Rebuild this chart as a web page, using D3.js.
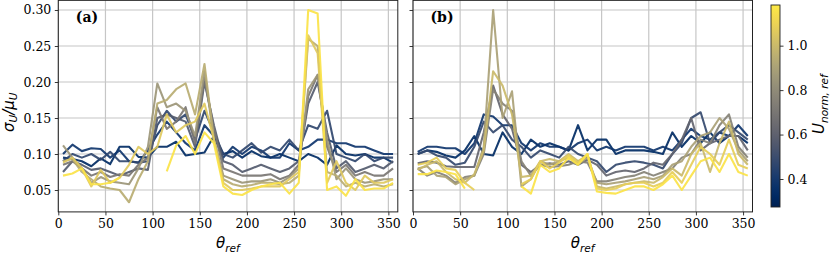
<!DOCTYPE html>
<html>
<head>
<meta charset="utf-8">
<script src="https://cdn.jsdelivr.net/npm/d3@7"></script>
<style>
    body { margin: 0; background: #fff; }
    text { fill: #000; }
</style>
</head>
<body>
<svg id="chart" width="830" height="254"></svg>
<script>
// theta_ref bin centres
var thetaRef = [5, 15, 25, 35, 45, 55, 65, 75, 85, 95, 105, 115, 125, 135, 145, 155, 165, 175,
    185, 195, 205, 215, 225, 235, 245, 255, 265, 275, 285, 295, 305, 315, 325, 335, 345, 355];

var xTicks = [0, 50, 100, 150, 200, 250, 300, 350];
var yTicks = [0.05, 0.10, 0.15, 0.20, 0.25, 0.30];
var cbarTicks = [0.4, 0.6, 0.8, 1.0];

// U_norm,ref of each line (colour)
var uNormA = [0.33, 0.38, 0.47, 0.57, 0.70, 0.85, 0.95, 1.06, 1.16];
var uNormB = [0.33, 0.38, 0.48, 0.62, 0.76, 0.90, 1.00, 1.08, 1.16];

// panel (a): sigma_U / mu_U
var a1 = [0.095, 0.093, 0.090, 0.083, 0.094, 0.086, 0.110, 0.110, 0.096, 0.095, 0.110, 0.110, 0.117, 0.098, 0.100, 0.102, 0.125, 0.100, 0.104, 0.095, 0.104, 0.097, 0.095, 0.100, 0.095, 0.090, 0.100, 0.095, 0.085, 0.112, 0.100, 0.098, 0.100, 0.095, 0.095, 0.088];
var a2 = [0.100, 0.113, 0.104, 0.108, 0.107, 0.095, 0.105, 0.090, 0.088, 0.105, 0.127, 0.145, 0.130, 0.115, 0.105, 0.140, 0.125, 0.095, 0.110, 0.100, 0.110, 0.105, 0.095, 0.095, 0.115, 0.105, 0.110, 0.120, 0.120, 0.115, 0.115, 0.110, 0.110, 0.105, 0.100, 0.100];
var a3 = [0.090, 0.100, 0.095, 0.100, 0.092, 0.103, 0.090, 0.090, 0.088, 0.090, 0.140, 0.160, 0.145, 0.155, 0.120, 0.160, 0.130, 0.100, 0.095, 0.105, 0.115, 0.102, 0.110, 0.105, 0.120, 0.105, 0.140, 0.135, 0.160, 0.100, 0.095, 0.090, 0.100, 0.090, 0.095, 0.095];
var a4 = [0.075, 0.090, 0.085, 0.078, 0.080, 0.075, 0.070, 0.075, 0.080, 0.078, 0.150, 0.155, 0.150, 0.145, 0.110, 0.200, 0.140, 0.090, 0.085, 0.075, 0.080, 0.085, 0.080, 0.075, 0.080, 0.090, 0.170, 0.200, 0.130, 0.080, 0.090, 0.075, 0.080, 0.085, 0.080, 0.090];
var a5 = [0.085, 0.090, 0.080, 0.070, 0.075, 0.068, 0.072, 0.070, 0.085, 0.095, 0.165, 0.135, 0.145, 0.165, 0.115, 0.205, 0.135, 0.080, 0.075, 0.070, 0.070, 0.070, 0.072, 0.065, 0.070, 0.085, 0.180, 0.210, 0.110, 0.075, 0.085, 0.070, 0.075, 0.070, 0.070, 0.080];
var a6 = [0.112, 0.095, 0.080, 0.060, 0.068, 0.062, 0.060, 0.058, 0.080, 0.110, 0.198, 0.165, 0.170, 0.160, 0.125, 0.215, 0.120, 0.070, 0.065, 0.060, 0.062, 0.062, 0.065, 0.060, 0.068, 0.080, 0.190, 0.210, 0.120, 0.065, 0.080, 0.065, 0.060, 0.062, 0.065, 0.065];
var a7 = [0.090, 0.093, 0.075, 0.065, 0.055, 0.052, 0.050, 0.033, 0.065, 0.090, 0.170, 0.175, 0.190, 0.198, 0.155, 0.225, 0.120, 0.065, 0.058, 0.055, 0.057, 0.060, 0.060, 0.058, 0.060, 0.070, 0.260, 0.250, 0.075, 0.070, 0.055, 0.060, 0.055, 0.058, 0.055, 0.058];
var a8 = [0.088, 0.095, 0.080, 0.055, 0.078, 0.060, 0.067, 0.085, 0.110, 0.100, 0.110, 0.155, 0.130, 0.140, 0.145, 0.170, 0.120, 0.060, 0.050, 0.050, 0.052, 0.055, 0.055, 0.055, 0.065, 0.075, 0.265, 0.240, 0.060, 0.090, 0.060, 0.050, 0.070, 0.060, 0.060, 0.065];
var a9 = [0.070, 0.073, 0.080, 0.058, 0.058, 0.060, 0.067, null, null, null, null, 0.076, 0.112, 0.125, 0.100, 0.130, 0.115, 0.055, 0.045, 0.043, 0.050, 0.055, 0.058, 0.060, 0.045, 0.060, 0.300, 0.295, 0.050, 0.055, 0.042, 0.065, 0.050, 0.052, 0.052, 0.060];

// panel (b): sigma_U / mu_U
var b1 = [0.100, 0.105, 0.103, 0.098, 0.095, 0.105, 0.125, 0.100, 0.098, 0.130, 0.110, 0.100, 0.120, 0.110, 0.115, 0.110, 0.105, 0.140, 0.105, 0.120, 0.120, 0.100, 0.105, 0.105, 0.105, 0.103, 0.100, 0.130, 0.110, 0.125, 0.115, 0.130, 0.115, 0.125, 0.125, 0.115];
var b2 = [0.103, 0.110, 0.110, 0.108, 0.108, 0.100, 0.115, 0.155, 0.152, 0.140, 0.140, 0.115, 0.105, 0.115, 0.110, 0.110, 0.105, 0.115, 0.120, 0.105, 0.110, 0.105, 0.110, 0.110, 0.110, 0.105, 0.110, 0.105, 0.120, 0.135, 0.125, 0.120, 0.130, 0.125, 0.140, 0.125];
var b3 = [0.100, 0.105, 0.098, 0.095, 0.085, 0.088, 0.110, 0.145, 0.130, 0.140, 0.120, 0.110, 0.095, 0.105, 0.100, 0.095, 0.110, 0.100, 0.095, 0.090, 0.075, 0.085, 0.088, 0.090, 0.088, 0.085, 0.080, 0.100, 0.115, 0.150, 0.158, 0.115, 0.130, 0.140, 0.130, 0.120];
var b4 = [0.087, 0.090, 0.088, 0.083, 0.082, 0.082, 0.082, 0.130, 0.195, 0.155, 0.135, 0.085, 0.075, 0.085, 0.087, 0.085, 0.090, 0.085, 0.092, 0.085, 0.070, 0.075, 0.077, 0.075, 0.080, 0.088, 0.085, 0.100, 0.120, 0.150, 0.105, 0.115, 0.120, 0.125, 0.125, 0.105];
var b5 = [0.080, 0.070, 0.075, 0.070, 0.060, 0.068, 0.070, 0.100, 0.190, 0.170, 0.160, 0.090, 0.070, 0.085, 0.082, 0.083, 0.085, 0.090, 0.088, 0.062, 0.062, 0.065, 0.068, 0.070, 0.075, 0.070, 0.075, 0.080, 0.095, 0.100, 0.120, 0.115, 0.140, 0.155, 0.110, 0.095];
var b6 = [0.080, 0.083, 0.070, 0.068, 0.058, 0.065, 0.070, 0.110, 0.300, 0.150, 0.187, 0.055, 0.065, 0.090, 0.085, 0.090, 0.095, 0.087, 0.095, 0.060, 0.058, 0.060, 0.062, 0.065, 0.068, 0.065, 0.070, 0.085, 0.090, 0.110, 0.125, 0.130, 0.150, 0.135, 0.105, 0.090];
var b7 = [0.078, 0.085, 0.090, 0.075, 0.065, 0.060, 0.072, 0.105, 0.215, 0.195, 0.155, 0.068, 0.070, 0.090, 0.093, 0.090, 0.100, 0.090, 0.098, 0.055, 0.052, 0.055, 0.058, 0.060, 0.062, 0.060, 0.068, 0.080, 0.070, 0.100, 0.115, 0.075, 0.115, 0.145, 0.100, 0.085];
var b8 = [0.085, 0.088, 0.095, 0.080, 0.078, 0.060, 0.050, null, null, null, null, 0.058, 0.065, 0.090, 0.080, 0.088, 0.098, 0.088, 0.100, 0.052, 0.050, 0.052, 0.058, 0.060, 0.060, 0.055, 0.060, 0.075, 0.060, 0.085, 0.110, 0.100, 0.085, 0.120, 0.085, 0.080];
var b9 = [0.072, 0.072, 0.077, 0.075, 0.072, 0.052, null, null, null, null, null, 0.055, 0.045, 0.085, 0.075, 0.080, 0.095, 0.085, 0.100, 0.048, 0.046, 0.045, 0.050, 0.055, 0.055, 0.050, 0.058, 0.070, 0.050, 0.070, 0.090, 0.095, 0.075, 0.100, 0.075, 0.070];

var seriesA = [a1, a2, a3, a4, a5, a6, a7, a8, a9];
var seriesB = [b1, b2, b3, b4, b5, b6, b7, b8, b9];

var svg = d3.select('#chart');
var serif = 'DejaVu Serif, serif';
var sans = 'DejaVu Sans, sans-serif';

var color = d3.scaleSequential(d3.interpolateCividis).domain([0.274, 1.183]);

var y = d3.scaleLinear().domain([0.0196, 0.3134]).range([211.9, 0.35]);

function mathLabel(sel, parts) {
    // parts: [[text, isSub], ...]
    var t = sel.append('text')
        .attr('font-family', sans)
        .attr('font-style', 'italic')
        .attr('font-size', 15);
    var sub = false;
    parts.forEach(function (p) {
        var dy = 0;
        if (p[1] && !sub) dy = 3.5;
        if (!p[1] && sub) dy = -3.5;
        sub = p[1];
        t.append('tspan')
            .attr('dy', dy)
            .attr('font-size', p[1] ? 10.5 : 15)
            .text(p[0]);
    });
    return t;
}

function drawPanel(left, series, uVals, tag, showYLabels) {
    var x = d3.scaleLinear().domain([0, 360]).range([left, left + 339.5]);
    var g = svg.append('g');

    // grid
    g.selectAll('.gx').data(xTicks).enter().append('line')
        .attr('x1', d => x(d)).attr('x2', d => x(d))
        .attr('y1', y.range()[1]).attr('y2', y.range()[0])
        .attr('stroke', '#c6c6c6').attr('stroke-width', 1.2);
    g.selectAll('.gy').data(yTicks).enter().append('line')
        .attr('x1', x.range()[0]).attr('x2', x.range()[1])
        .attr('y1', d => y(d)).attr('y2', d => y(d))
        .attr('stroke', '#c6c6c6').attr('stroke-width', 1.2);

    // lines
    var line = d3.line()
        .defined(d => d[1] != null)
        .x(d => x(d[0]))
        .y(d => y(d[1]));

    series.forEach(function (vals, i) {
        g.append('path')
            .datum(thetaRef.map((t, j) => [t, vals[j]]))
            .attr('d', line)
            .attr('fill', 'none')
            .attr('stroke', color(uVals[i]))
            .attr('stroke-width', 2.1)
            .attr('stroke-linejoin', 'round')
            .attr('opacity', 0.92);
    });

    // axes
    var xAxis = d3.axisBottom(x).tickValues(xTicks).tickSize(3.5).tickPadding(3.5)
        .tickFormat(d3.format('d'));
    g.append('g')
        .attr('transform', `translate(0,${y.range()[0]})`)
        .call(xAxis)
        .call(s => s.select('.domain').remove())
        .call(s => s.selectAll('text').attr('font-family', serif).attr('font-size', 12.5).attr('fill', '#000'))
        .call(s => s.selectAll('line').attr('stroke', '#222').attr('stroke-width', 0.9));

    var yAxis = d3.axisLeft(y).tickValues(yTicks).tickSize(3.5).tickPadding(3.5)
        .tickFormat(showYLabels ? d3.format('.2f') : '');
    g.append('g')
        .attr('transform', `translate(${left},0)`)
        .call(yAxis)
        .call(s => s.select('.domain').remove())
        .call(s => s.selectAll('text').attr('font-family', serif).attr('font-size', 12.5).attr('fill', '#000'))
        .call(s => s.selectAll('line').attr('stroke', '#222').attr('stroke-width', 0.9));

    // frame
    g.append('rect')
        .attr('x', x.range()[0]).attr('y', y.range()[1])
        .attr('width', x.range()[1] - x.range()[0])
        .attr('height', y.range()[0] - y.range()[1])
        .attr('fill', 'none').attr('stroke', '#222').attr('stroke-width', 1);

    g.append('text')
        .text(tag)
        .attr('x', left + 17.5)
        .attr('y', 22)
        .attr('font-family', serif)
        .attr('font-weight', 'bold')
        .attr('font-size', 14);

    var xl = mathLabel(g, [['θ', false], ['ref', true]]);
    xl.attr('x', (x.range()[0] + x.range()[1]) / 2 - 12).attr('y', 248);
}

drawPanel(58.3, seriesA, uNormA, '(a)', true);
drawPanel(413, seriesB, uNormB, '(b)', false);

// y label
var yl = mathLabel(svg, [['σ', false], ['U', true], ['/μ', false], ['U', true]]);
yl.attr('transform', 'translate(13.5,132) rotate(-90)');

// colorbar
var cb = { x: 771, y: 5, w: 9, h: 202 };
var cy = d3.scaleLinear().domain(color.domain()).range([cb.y + cb.h, cb.y]);

var grad = svg.append('defs').append('linearGradient')
    .attr('id', 'cbar').attr('x1', 0).attr('x2', 0).attr('y1', 1).attr('y2', 0);
d3.range(0, 1.001, 0.05).forEach(function (p) {
    grad.append('stop')
        .attr('offset', p)
        .attr('stop-color', d3.interpolateCividis(p));
});

svg.append('rect')
    .attr('x', cb.x).attr('y', cb.y).attr('width', cb.w).attr('height', cb.h)
    .attr('fill', 'url(#cbar)')
    .attr('stroke', '#222').attr('stroke-width', 0.9);

svg.append('g')
    .attr('transform', `translate(${cb.x + cb.w},0)`)
    .call(d3.axisRight(cy).tickValues(cbarTicks).tickSize(3.5).tickPadding(4).tickFormat(d3.format('.1f')))
    .call(s => s.select('.domain').remove())
    .call(s => s.selectAll('text').attr('font-family', serif).attr('font-size', 12.5).attr('fill', '#000'))
    .call(s => s.selectAll('line').attr('stroke', '#222').attr('stroke-width', 0.9));

var cl = mathLabel(svg, [['U', false], ['norm, ref', true]]);
cl.attr('transform', 'translate(824,134) rotate(-90)');
</script>
</body>
</html>
